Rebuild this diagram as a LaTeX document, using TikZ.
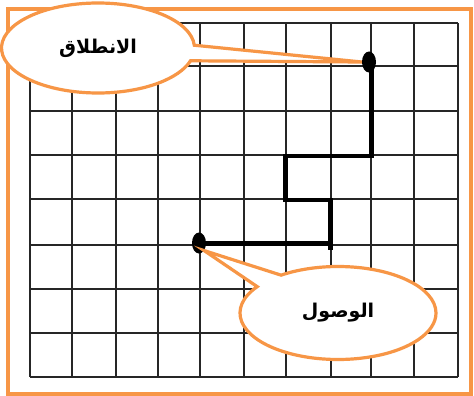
\documentclass[tikz,border=0pt]{standalone}
\usepackage{fontspec}
\usetikzlibrary{shapes.callouts,shapes.geometric}
\TeXXeTstate=1
\newfontfamily\arabicfont[Script=Arabic]{DejaVu Sans}
\definecolor{borderorange}{HTML}{F79646}
\begin{document}
\begin{tikzpicture}[x=1pt,y=-1pt,
  gridline/.style={line width=2pt, draw=black!85},
  route/.style={line width=4.8pt, line join=miter, draw=black},
  routeshadow/.style={line width=4.8pt, draw=black!25, opacity=0.6},
  dotnode/.style={ellipse, fill=black, inner sep=0pt, minimum width=14pt, minimum height=21pt},
  bubble/.style={ellipse callout, draw=borderorange, fill=white, line width=3.2pt, inner sep=0pt, callout pointer arc=20, font=\arabicfont\bfseries\fontsize{19}{22}\selectfont}]
\useasboundingbox (0,0) rectangle (474,396);
\fill[white] (0,0) rectangle (474,396);
% grid
\foreach \x in {30,71.7,116,157.7,200,244,285.7,330.7,371.3,414,458}
  \draw[gridline] (\x,23.3) -- (\x,377);
\foreach \y in {23.3,66,110.7,155,199.3,244.5,288.7,332.7,377}
  \draw[gridline] (30,\y) -- (458,\y);
% frame
\draw[borderorange, line width=4pt] (8,9.5) rectangle (470.5,393.5);
% route
\coordinate (r0) at (371.3,62);
\coordinate (r1) at (371.3,156);
\coordinate (r2) at (285.7,156);
\coordinate (r3) at (285.7,200);
\coordinate (r4) at (330.7,200);
\coordinate (r5) at (330.7,250);
\coordinate (h0) at (199,243.5);
\coordinate (h1) at (330.7,243.5);
\draw[routeshadow, shift={(1.5,2)}] (r0) -- (r1) -- (r2) -- (r3) -- (r4) -- (r5);
\draw[routeshadow, shift={(1.5,2)}] (h0) -- (h1);
\draw[route] (r0) -- (r1) -- (r2) -- (r3) -- (r4) -- (r5);
\draw[route] (h0) -- (h1);
\node[dotnode] (start) at (369,62) {};
\node[dotnode] (finish) at (199,243) {};
% callouts
\node[bubble, minimum width=193pt, minimum height=90pt, callout absolute pointer={(start.west)}] (startlabel) at (98,48) {\beginR الانطلاق\endR};
\node[bubble, minimum width=196pt, minimum height=93pt, callout absolute pointer={(finish.south east)}] (endlabel) at (338,313) {\beginR الوصول\endR};
\end{tikzpicture}
\end{document}
